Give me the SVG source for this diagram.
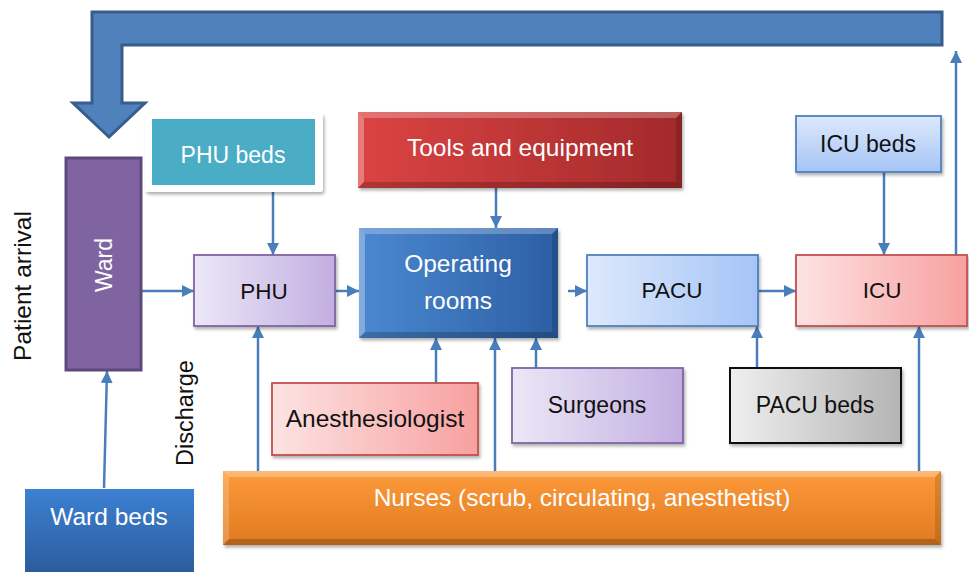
<svg xmlns="http://www.w3.org/2000/svg" width="969" height="576" viewBox="0 0 969 576">
<style>
text{font-family:"Liberation Sans",Arial,sans-serif;font-size:23px;text-anchor:middle}
.big{font-size:24.5px}
.w{fill:#ffffff}
.k{fill:#111111}
.con{stroke:#4a7ebb;stroke-width:2.5;fill:none;marker-end:url(#ah)}
</style>
<defs>
<marker id="ah" viewBox="0 0 12 12" refX="12" refY="6" markerWidth="12" markerHeight="12" markerUnits="userSpaceOnUse" orient="auto">
<path d="M0,0 L12,6 L0,12 Z" fill="#4a7ebb"/>
</marker>
<filter id="sh" x="-10%" y="-10%" width="125%" height="130%">
<feDropShadow dx="1.5" dy="2.5" stdDeviation="1.8" flood-color="#000" flood-opacity="0.3"/>
</filter>
<linearGradient id="gPurple" x1="0" y1="0" x2="1" y2="0"><stop offset="0" stop-color="#ece7f7"/><stop offset="1" stop-color="#c2afe1"/></linearGradient>
<linearGradient id="gBlueL" x1="0" y1="0" x2="1" y2="0"><stop offset="0" stop-color="#dde9fc"/><stop offset="1" stop-color="#a5c4f6"/></linearGradient>
<linearGradient id="gBlueV" x1="0" y1="0" x2="0" y2="1"><stop offset="0" stop-color="#dde9fc"/><stop offset="1" stop-color="#a5c4f6"/></linearGradient>
<linearGradient id="gRedL" x1="0" y1="0" x2="1" y2="0"><stop offset="0" stop-color="#fde3e3"/><stop offset="1" stop-color="#f8a0a0"/></linearGradient>
<linearGradient id="gGray" x1="0" y1="0" x2="1" y2="0"><stop offset="0" stop-color="#efefef"/><stop offset="1" stop-color="#b4b4b4"/></linearGradient>
<linearGradient id="gRed" x1="0" y1="0" x2="1" y2="0"><stop offset="0" stop-color="#db4443"/><stop offset="1" stop-color="#a3292b"/></linearGradient>
<linearGradient id="gOR" x1="0" y1="0" x2="1" y2="0"><stop offset="0" stop-color="#4b88d0"/><stop offset="1" stop-color="#2c5fa4"/></linearGradient>
<linearGradient id="gOrange" x1="0" y1="0" x2="0" y2="1"><stop offset="0" stop-color="#fd9a3a"/><stop offset="1" stop-color="#e07a21"/></linearGradient>
<linearGradient id="gWardBeds" x1="0" y1="0" x2="0" y2="1"><stop offset="0" stop-color="#3d80d2"/><stop offset="1" stop-color="#2b5d9e"/></linearGradient>
</defs>

<g id="connectors">
<path id="loop" d="M92,12 H942 V45 H122 V103 H145 L109,137 L73,103 H92 Z" fill="#4f81bd" stroke="#385d8a" stroke-width="3" stroke-linejoin="miter"/>
<path class="con" d="M141,291 H194"/>
<path class="con" d="M273,192 V255"/>
<path class="con" d="M335,291 H359"/>
<path class="con" d="M496,188 V228"/>
<path class="con" d="M568,291 H587"/>
<path class="con" d="M758,291 H796"/>
<path class="con" d="M884,172 V255"/>
<path class="con" d="M956,255 V51"/>
<path class="con" d="M104,488 L107,371"/>
<path class="con" d="M258,471 V326"/>
<path class="con" d="M436,383 V338"/>
<path class="con" d="M495,471 V338"/>
<path class="con" d="M536,368 V338"/>
<path class="con" d="M757,368 V326"/>
<path class="con" d="M919,471 V326"/>
</g>

<g id="patient-arrival"><text class="k big" transform="translate(31,286) rotate(-90)">Patient arrival</text></g>
<g id="discharge"><text class="k" style="font-size:23.5px" transform="translate(193,413) rotate(-90)">Discharge</text></g>

<g id="ward">
<rect x="66" y="158" width="75" height="212" fill="#8064a2" stroke="#5d4a7d" stroke-width="3"/>
<text class="w" transform="translate(112,265) rotate(-90)">Ward</text>
</g>

<g id="phu-beds">
<rect x="145" y="113" width="178" height="79" rx="3" fill="#ffffff" filter="url(#sh)"/>
<rect x="152" y="119" width="163" height="66" fill="#4bacc6"/>
<text class="w" x="233" y="163">PHU beds</text>
</g>

<g id="phu">
<rect x="194" y="255" width="141" height="71" fill="url(#gPurple)" stroke="#8064a2" stroke-width="1.8" filter="url(#sh)"/>
<text class="k" x="264" y="299" style="font-size:22.5px">PHU</text>
</g>

<g id="tools">
<rect x="358" y="112" width="324" height="76" fill="url(#gRed)" filter="url(#sh)"/>
<path d="M358,112 H682 L676,118 H364 Z" fill="#ffffff" opacity="0.25"/>
<path d="M358,112 L364,118 V182 L358,188 Z" fill="#ffffff" opacity="0.3"/>
<path d="M682,112 L676,118 V182 L682,188 Z" fill="#000000" opacity="0.15"/>
<path d="M358,188 L364,182 H676 L682,188 Z" fill="#000000" opacity="0.2"/>
<text class="w big" x="520" y="156">Tools and equipment</text>
</g>

<g id="operating-rooms">
<rect x="359" y="228" width="199" height="110" fill="url(#gOR)" filter="url(#sh)"/>
<path d="M359,228 H558 L552,234 H365 Z" fill="#ffffff" opacity="0.25"/>
<path d="M359,228 L365,234 V332 L359,338 Z" fill="#ffffff" opacity="0.3"/>
<path d="M558,228 L552,234 V332 L558,338 Z" fill="#000000" opacity="0.15"/>
<path d="M359,338 L365,332 H552 L558,338 Z" fill="#000000" opacity="0.2"/>
<text class="w big" x="458" y="272">Operating</text>
<text class="w big" x="458" y="309">rooms</text>
</g>

<g id="pacu">
<rect x="587" y="255" width="171" height="71" fill="url(#gBlueL)" stroke="#4f81bd" stroke-width="1.8" filter="url(#sh)"/>
<text class="k" x="672" y="298" style="font-size:22.5px">PACU</text>
</g>

<g id="icu">
<rect x="796" y="255" width="171" height="71" fill="url(#gRedL)" stroke="#c0504d" stroke-width="1.8" filter="url(#sh)"/>
<text class="k" x="882" y="298" style="font-size:22.5px">ICU</text>
</g>

<g id="icu-beds">
<rect x="796" y="116" width="145" height="56" fill="url(#gBlueV)" stroke="#4f81bd" stroke-width="1.8" filter="url(#sh)"/>
<text class="k" x="868" y="152">ICU beds</text>
</g>

<g id="anesthesiologist">
<rect x="272" y="383" width="206" height="72" fill="url(#gRedL)" stroke="#c0504d" stroke-width="1.8" filter="url(#sh)"/>
<text class="k big" x="375" y="427">Anesthesiologist</text>
</g>

<g id="surgeons">
<rect x="512" y="368" width="171" height="75" fill="url(#gPurple)" stroke="#8064a2" stroke-width="1.8" filter="url(#sh)"/>
<text class="k" x="597" y="413">Surgeons</text>
</g>

<g id="pacu-beds">
<rect x="730" y="368" width="171" height="75" fill="url(#gGray)" stroke="#111111" stroke-width="2" filter="url(#sh)"/>
<text class="k" x="815" y="413">PACU beds</text>
</g>

<g id="nurses">
<rect x="223" y="471" width="718" height="74" fill="url(#gOrange)" filter="url(#sh)"/>
<path d="M223,471 H941 L935,477 H229 Z" fill="#ffffff" opacity="0.3"/>
<path d="M223,471 L229,477 V539 L223,545 Z" fill="#ffffff" opacity="0.2"/>
<path d="M941,471 L935,477 V539 L941,545 Z" fill="#000000" opacity="0.12"/>
<path d="M223,545 L229,539 H935 L941,545 Z" fill="#000000" opacity="0.2"/>
<text class="w big" x="582" y="506">Nurses (scrub, circulating, anesthetist)</text>
</g>

<g id="ward-beds">
<rect x="25" y="489" width="169" height="83" fill="url(#gWardBeds)"/>
<text class="w big" x="109" y="525">Ward beds</text>
</g>
</svg>
